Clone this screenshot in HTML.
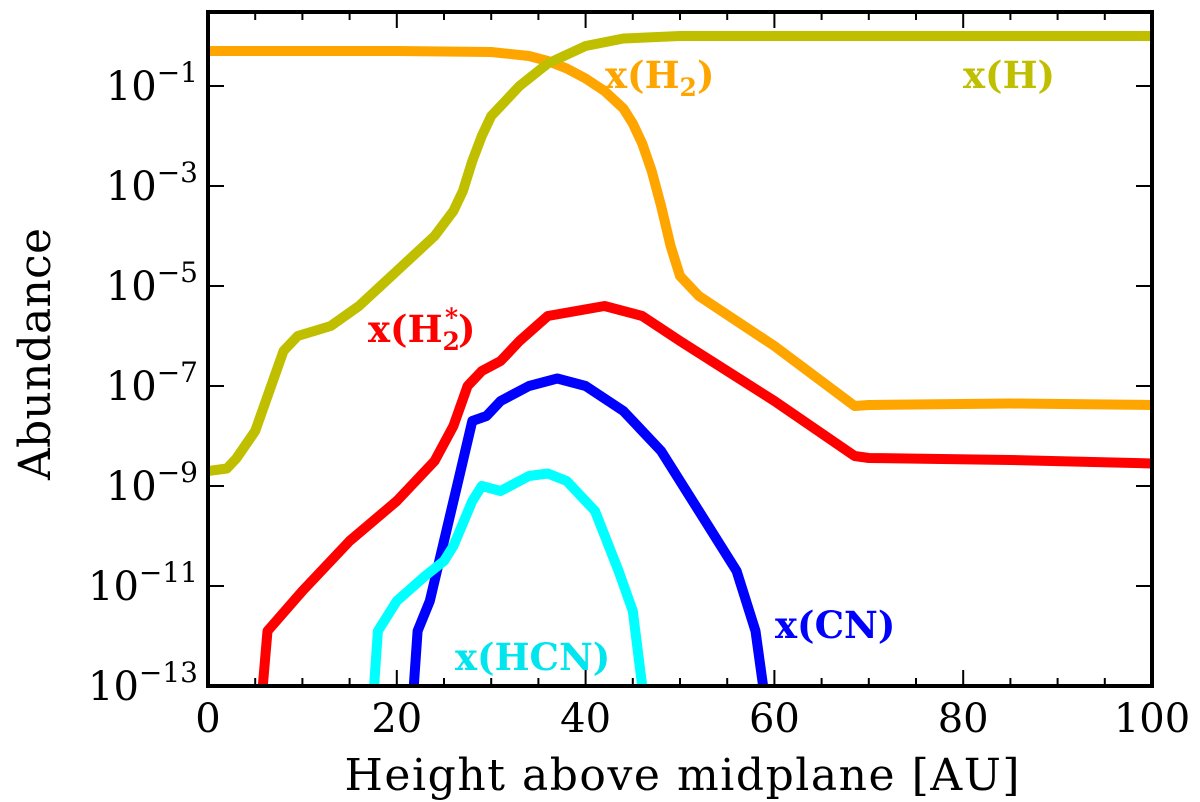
<!DOCTYPE html>
<html><head><meta charset="utf-8"><style>
body{margin:0;background:#fff;}
svg{display:block;font-family:"DejaVu Serif","Liberation Serif",serif;}
</style></head><body>
<svg id="chart" width="1200" height="802" viewBox="0 0 1200 802">
<g id="lines"></g>
<g id="axes"></g>
<text x="682" y="790" font-size="44" text-anchor="middle" textLength="675">Height above midplane [AU]</text>
<text transform="translate(50,354) rotate(-90)" font-size="44" text-anchor="middle" textLength="252">Abundance</text>
<g font-family="DejaVu Serif,serif" font-weight="bold" font-size="37">
<text x="605" y="88" fill="#ffa500">x(H<tspan font-size="25" dy="8">2</tspan><tspan dy="-8">)</tspan></text>
<text x="963" y="88" fill="#bfbf00">x(H)</text>
<text x="368" y="342" fill="#ff0000">x(H<tspan font-size="25" dy="8">2</tspan><tspan font-size="25" dx="-15" dy="-24">*</tspan><tspan dy="16">)</tspan></text>
<text x="775" y="638" fill="#0000ff">x(CN)</text>
<text x="455" y="670" fill="#00e5ee">x(HCN)</text>
</g>
</svg>
<script>
const h2X=[0,20,30,34,36,38,40,42,44,45,46,47,48,49,50,52,60,68.5,70,85,100];
const h2Y=[-0.3,-0.3,-0.32,-0.4,-0.5,-0.65,-0.85,-1.1,-1.45,-1.75,-2.15,-2.7,-3.4,-4.2,-4.8,-5.2,-6.2,-7.4,-7.38,-7.35,-7.38];
const hX=[0,2,3,5,8,9.5,13,16,20,24,26,27,28,29,30,31.5,33,36,40,44,50,100];
const hY=[-8.7,-8.65,-8.45,-7.9,-6.3,-6.0,-5.8,-5.4,-4.7,-4.0,-3.5,-3.1,-2.5,-2.0,-1.6,-1.3,-1.0,-0.55,-0.2,-0.05,0,0];
const h2sX=[5.8,6.3,10,15,20,24,26,27.5,29,31,33,36,42,46,50,60,68.5,70,85,100];
const h2sY=[-13,-11.9,-11.1,-10.1,-9.3,-8.5,-7.8,-7.0,-6.7,-6.5,-6.1,-5.6,-5.4,-5.6,-6.1,-7.3,-8.4,-8.44,-8.48,-8.55];
const cnX=[21.8,22.2,23.5,25,26.5,28,29.5,31,34,37,40,44,48,52,56,58,58.8];
const cnY=[-13,-11.9,-11.3,-10.1,-8.9,-7.7,-7.6,-7.3,-7.0,-6.85,-7.0,-7.5,-8.3,-9.5,-10.7,-11.9,-13];
const hcnX=[17.6,18,20,23,25,26,28,29,31,34,36,38,41,43.5,45,46];
const hcnY=[-13,-11.9,-11.3,-10.8,-10.5,-10.2,-9.3,-9.0,-9.1,-8.8,-8.75,-8.9,-9.5,-10.7,-11.5,-13];
const xTicks=[0,20,40,60,80,100];
const yTicks=[-1,-3,-5,-7,-9,-11,-13];
const L=208,R=1152,T=12,B=686;
const sx=v=>L+(R-L)*v/100;
const sy=v=>B-50*(v+13);
const NS="http://www.w3.org/2000/svg";
const lines=document.getElementById('lines');
function series(xs,ys,color,name){
  const p=document.createElementNS(NS,'path');
  p.setAttribute('d',xs.map((x,i)=>(i?'L':'M')+sx(x).toFixed(1)+','+sy(ys[i]).toFixed(1)).join(''));
  p.setAttribute('fill','none');p.setAttribute('stroke',color);p.setAttribute('stroke-width','10');
  p.setAttribute('stroke-linejoin','round');
  
  
  lines.appendChild(p);
}
const cp=document.createElementNS(NS,'clipPath');cp.id='clip';
const cr=document.createElementNS(NS,'rect');cr.setAttribute('x',L);cr.setAttribute('y',T);cr.setAttribute('width',R-L);cr.setAttribute('height',B-T);
cp.appendChild(cr);document.getElementById('chart').appendChild(cp);
lines.setAttribute('clip-path','url(#clip)');
series(h2X,h2Y,'#ffa500','line-h2');
series(hX,hY,'#bfbf00','line-h');
series(h2sX,h2sY,'#ff0000','line-h2-excited');
series(cnX,cnY,'#0000ff','line-cn');
series(hcnX,hcnY,'#00ffff','line-hcn');
const ax=document.getElementById('axes');
let s='<rect x="'+L+'" y="'+T+'" width="'+(R-L)+'" height="'+(B-T)+'" fill="none" stroke="#000" stroke-width="4"/>';
for(let v=0;v<=100;v+=5){const x=sx(v);const len=v%20===0?16:8;
 s+='<line x1="'+x+'" y1="'+B+'" x2="'+x+'" y2="'+(B-len)+'" stroke="#000" stroke-width="2"/><line x1="'+x+'" y1="'+T+'" x2="'+x+'" y2="'+(T+len)+'" stroke="#000" stroke-width="2"/>';}
ax.innerHTML=s;
xTicks.forEach(v=>{const t=document.createElementNS(NS,'text');
 t.setAttribute('x',sx(v));t.setAttribute('y',732);t.setAttribute('font-size','40');t.setAttribute('text-anchor','middle');
 t.textContent=v;
 
 
 ax.appendChild(t);});
yTicks.forEach(v=>{const y=sy(v);
 const l=document.createElementNS(NS,'line');l.setAttribute('x1',L);l.setAttribute('x2',L+16);l.setAttribute('y1',y);l.setAttribute('y2',y);l.setAttribute('stroke','#000');l.setAttribute('stroke-width','2');ax.appendChild(l);
 const l2=document.createElementNS(NS,'line');l2.setAttribute('x1',R);l2.setAttribute('x2',R-16);l2.setAttribute('y1',y);l2.setAttribute('y2',y);l2.setAttribute('stroke','#000');l2.setAttribute('stroke-width','2');ax.appendChild(l2);
 const t=document.createElementNS(NS,'text');t.setAttribute('x',L-10);t.setAttribute('y',y+14);t.setAttribute('font-size','40');t.setAttribute('text-anchor','end');
 t.innerHTML='10<tspan font-size="28" dy="-18">\u2212'+Math.abs(v)+'</tspan>';
 
 
 ax.appendChild(t);});
</script>
</body></html>
